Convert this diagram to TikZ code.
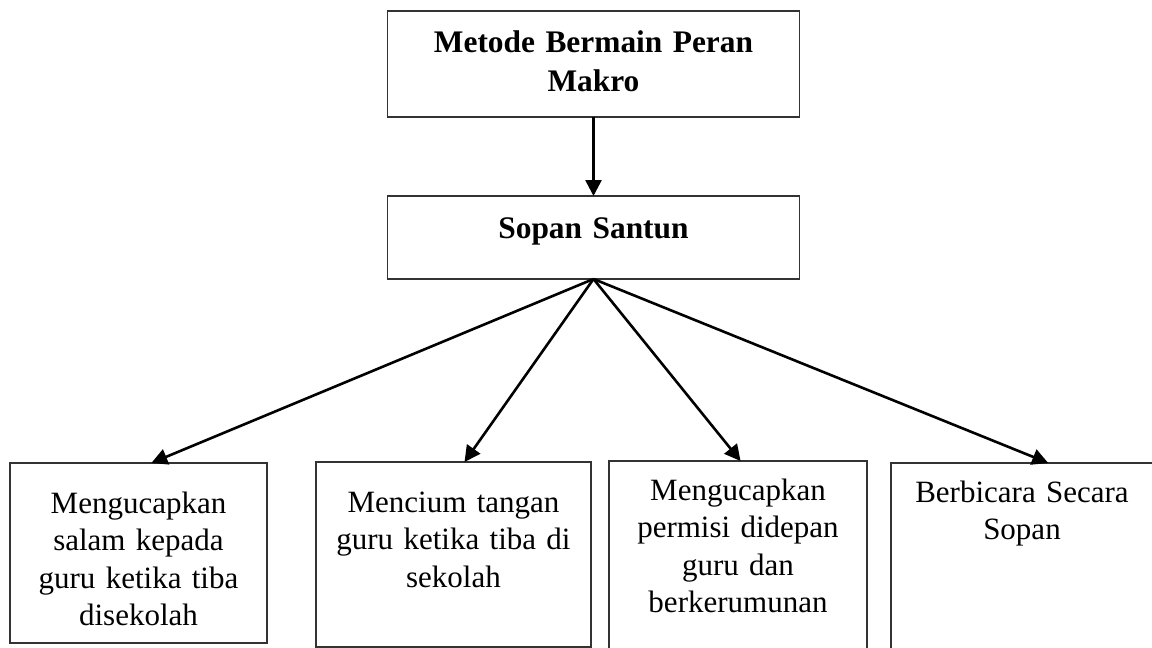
\documentclass[tikz,border=0pt]{standalone}
\usepackage{xcolor}
\usepackage{fontspec}
\setmainfont{Liberation Serif}
\usepackage{tikz}
\usetikzlibrary{arrows.meta,calc}
\tikzset{%
  box/.style={draw=black!80, line width=0.8pt, rectangle, inner sep=0pt, outer sep=0pt, align=center, anchor=north},
  headbox/.style={box, text width=206pt, font=\bfseries\fontsize{15.7pt}{20pt}\selectfont},
  leafbox/.style={box, font=\fontsize{15.5pt}{18.8pt}\selectfont},
  arr/.style={-{Triangle[length=8pt,width=8pt]}, line width=1.3pt},
}

\begin{document}
\begin{tikzpicture}[x=0.5pt,y=-0.5pt]%
\useasboundingbox (0,0) rectangle (1152,648);%
\node[headbox, text height=20.5pt, text depth=32.5pt] (metode) at (593.5,11) {Metode Bermain Peran\\Makro};%
\node[headbox, text height=21pt, text depth=20.5pt] (santun) at (593.5,196) {Sopan Santun};%
\node[leafbox, text width=128.5pt, text height=25pt, text depth=65pt] (salam) at (138.5,463) {Mengucapkan\\salam kepada\\guru ketika tiba\\disekolah};%
\node[leafbox, text width=137.5pt, text height=25pt, text depth=67.5pt] (tangan) at (453.5,462) {Mencium tangan\\guru ketika tiba di\\sekolah};%
\node[leafbox, text width=129pt, text height=19.5pt, text depth=80pt] (permisi) at (738,461) {Mengucapkan\\permisi didepan\\guru dan\\berkerumunan};%
\node[leafbox, text width=131pt, text height=19.5pt, text depth=79pt] (bicara) at (1022,463) {Berbicara Secara\\Sopan};%
\draw[arr] (metode.south) -- (santun.north);%
\draw[arr] (santun.south) -- ($(salam.north west)!0.55!(salam.north east)$);%
\draw[arr] (santun.south) -- ($(tangan.north west)!0.54!(tangan.north east)$);%
\draw[arr] (santun.south) -- ($(permisi.north west)!0.51!(permisi.north east)$);%
\draw[arr] (santun.south) -- ($(bicara.north west)!0.6!(bicara.north east)$);%
\end{tikzpicture}
\end{document}
